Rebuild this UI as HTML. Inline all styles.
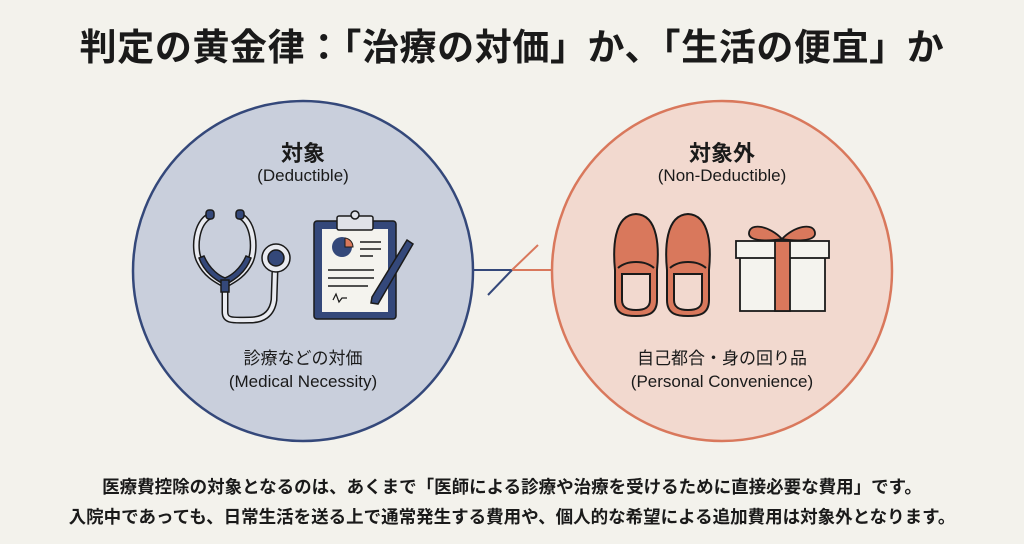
<!DOCTYPE html>
<html><head><meta charset="utf-8"><style>
html,body{margin:0;padding:0;}
body{width:1024px;height:544px;background:#f3f2ec;position:relative;overflow:hidden;font-family:"Liberation Sans","Noto Sans CJK JP",sans-serif;color:#1a1a1a;}
.t{position:absolute;left:0;width:1024px;text-align:center;}
</style></head><body>
<div class="t" style="top:17px;font-size:37px;font-weight:bold;letter-spacing:0.6px;font-family:'Noto Sans CJK JP',sans-serif;">判定の黄金律：「治療の対価」か、「生活の便宜」か</div>
<svg width="1024" height="544" style="position:absolute;left:0;top:0">
<circle cx="303" cy="271" r="170" fill="#c9cfdc" stroke="#34487a" stroke-width="2.5"/>
<circle cx="722" cy="271" r="170" fill="#f2d9cf" stroke="#d9785c" stroke-width="2.5"/>
<line x1="474" y1="270" x2="512" y2="270" stroke="#34487a" stroke-width="2"/>
<line x1="512" y1="270" x2="551" y2="270" stroke="#d9785c" stroke-width="2"/>
<line x1="488" y1="295" x2="512" y2="270" stroke="#34487a" stroke-width="2"/>
<line x1="512" y1="270" x2="538" y2="245" stroke="#d9785c" stroke-width="2"/>
<g stroke="#1a1a1a" stroke-width="1.5">
<path d="M210 216 C196 222 193 250 200 262 C208 278 222 282 225 285 L225 312 C225 322 235 320 250 320 C262 320 272 315 274 300 L275 270" fill="none" stroke="#1a1a1a" stroke-width="7"/>
<path d="M210 216 C196 222 193 250 200 262 C208 278 222 282 225 285 L225 312 C225 322 235 320 250 320 C262 320 272 315 274 300 L275 270" fill="none" stroke="#e8eaf0" stroke-width="4"/>
<path d="M240 216 C254 222 256 250 250 262 C242 278 228 282 225 285" fill="none" stroke="#1a1a1a" stroke-width="7"/>
<path d="M240 216 C254 222 256 250 250 262 C242 278 228 282 225 285" fill="none" stroke="#e8eaf0" stroke-width="4"/>
<path d="M199 258 C205 275 220 282 225 285 C230 282 245 275 251 258 L246 256 C240 270 230 276 225 278 C220 276 210 270 204 256Z" fill="#34487a"/>
<rect x="221" y="280" width="8" height="12" fill="#34487a"/>
<rect x="206" y="210" width="8" height="9" rx="3" fill="#34487a"/>
<rect x="236" y="210" width="8" height="9" rx="3" fill="#34487a"/>
<circle cx="276" cy="258" r="14" fill="#e8eaf0"/>
<circle cx="276" cy="258" r="8" fill="#34487a"/>
</g>
<rect x="314" y="221" width="82" height="98" rx="3" fill="#34487a" stroke="#1a1a1a" stroke-width="1.5"/>
<rect x="322" y="229" width="66" height="83" fill="#f4f3ee"/>
<rect x="337" y="216" width="36" height="14" rx="2" fill="#e0e2e8" stroke="#1a1a1a" stroke-width="1.5"/>
<circle cx="355" cy="215" r="4" fill="#e0e2e8" stroke="#1a1a1a" stroke-width="1.5"/>
<circle cx="342" cy="247" r="10" fill="#34487a"/>
<path d="M345 238 L345 247 L353 247 A9 9 0 0 0 345 238Z" fill="#d9785c" stroke="#1a1a1a" stroke-width="1"/>
<g stroke="#1a1a1a" stroke-width="1.5"><line x1="360" y1="242" x2="381" y2="242"/><line x1="360" y1="249" x2="381" y2="249"/><line x1="360" y1="256" x2="373" y2="256"/><line x1="328" y1="270" x2="374" y2="270"/><line x1="328" y1="278" x2="374" y2="278"/><line x1="328" y1="286" x2="368" y2="286"/></g>
<path d="M333 300 l3 -6 l3 8 l3 -4 l5 0" fill="none" stroke="#1a1a1a" stroke-width="1.2"/>
<path d="M407 240 L413 244 L378 304 L371 303 L372 297Z" fill="#34487a" stroke="#1a1a1a" stroke-width="1.5"/>
<g stroke="#1a1a1a" stroke-width="2" fill="#d9785c">
<path d="M615 270 C613 250 613 215 636 214 C659 215 659 250 657 270 L657 300 C657 315 646 316 636 316 C626 316 615 315 615 300Z"/>
<path d="M622 274 L622 300 C622 308 628 310 636 310 C644 310 650 308 650 300 L650 274Z" fill="#f2d9cf"/>
<path d="M618 268 C627 260 645 260 654 268" fill="none"/>
<path d="M667 270 C665 250 665 215 688 214 C711 215 711 250 709 270 L709 300 C709 315 698 316 688 316 C678 316 667 315 667 300Z"/>
<path d="M674 274 L674 300 C674 308 680 310 688 310 C696 310 702 308 702 300 L702 274Z" fill="#f2d9cf"/>
<path d="M670 268 C679 260 697 260 706 268" fill="none"/>
</g>
<g stroke="#1a1a1a" stroke-width="1.8">
<rect x="740" y="256" width="85" height="55" fill="#f4f3ee"/>
<rect x="736" y="241" width="93" height="17" fill="#f4f3ee"/>
<rect x="775" y="241" width="15" height="70" fill="#d9785c"/>
<path d="M782 239 C770 226 750 222 749 233 C748 242 770 241 782 239Z" fill="#d9785c"/>
<path d="M782 239 C794 226 814 222 815 233 C816 242 794 241 782 239Z" fill="#d9785c"/>
</g>
</svg>
<div class="t" style="left:-209px;top:136px;font-size:22px;font-weight:bold;">対象</div>
<div class="t" style="left:-209px;top:166px;font-size:17px;">(Deductible)</div>
<div class="t" style="left:-209px;top:344px;font-size:17px;">診療などの対価</div>
<div class="t" style="left:-209px;top:372px;font-size:17px;">(Medical Necessity)</div>
<div class="t" style="left:210px;top:136px;font-size:22px;font-weight:bold;">対象外</div>
<div class="t" style="left:210px;top:166px;font-size:17px;">(Non-Deductible)</div>
<div class="t" style="left:210px;top:344px;font-size:17px;">自己都合・身の回り品</div>
<div class="t" style="left:210px;top:372px;font-size:17px;">(Personal Convenience)</div>
<div class="t" style="top:474px;font-size:17.5px;font-weight:bold;">医療費控除の対象となるのは、あくまで「医師による診療や治療を受けるために直接必要な費用」です。</div>
<div class="t" style="top:504px;font-size:17.5px;font-weight:bold;">入院中であっても、日常生活を送る上で通常発生する費用や、個人的な希望による追加費用は対象外となります。</div>
</body></html>
